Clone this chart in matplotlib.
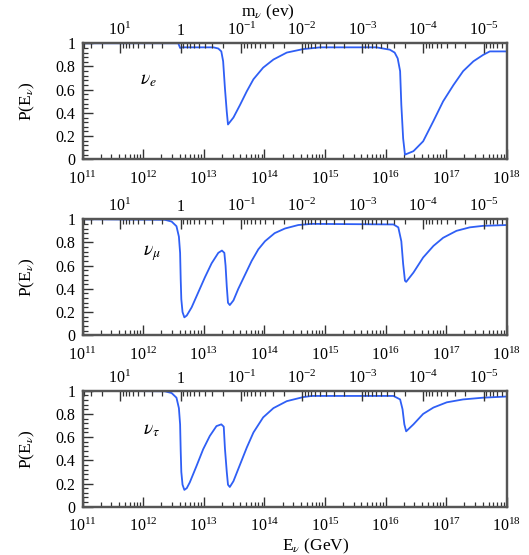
import numpy as np
import matplotlib
matplotlib.use("Agg")
import matplotlib.pyplot as plt
from matplotlib.ticker import LogLocator, FixedLocator, MultipleLocator, FuncFormatter, NullFormatter

plt.rcParams['font.family'] = ['Liberation Serif', 'DejaVu Serif']
plt.rcParams['mathtext.fontset'] = 'stix'

# values: log10(E/GeV) and P(E)
nue_logE = [11.0, 12.58, 12.61, 12.65, 13.16, 13.24, 13.29, 13.32, 13.35, 13.38,
            13.40, 13.49, 13.60, 13.71, 13.82, 13.98, 14.15, 14.37, 14.64, 14.92,
            15.85, 16.07, 16.15, 16.20, 16.24, 16.26, 16.29, 16.32,
            16.46, 16.62, 16.79, 16.95, 17.12, 17.28, 17.45, 17.61, 17.72, 18.0]
nue_P = [1.0, 1.0, 0.96, 0.965, 0.965, 0.955, 0.93, 0.845, 0.61, 0.41,
         0.30, 0.36, 0.47, 0.586, 0.69, 0.79, 0.86, 0.92, 0.95, 0.965,
         0.965, 0.945, 0.92, 0.87, 0.76, 0.47, 0.18, 0.04,
         0.07, 0.155, 0.33, 0.50, 0.64, 0.76, 0.845, 0.90, 0.93, 0.93]

numu_logE = [11.0, 12.36, 12.47, 12.55, 12.59, 12.61, 12.62, 12.63, 12.65, 12.68,
             12.72, 12.80, 12.91, 13.02, 13.13, 13.24, 13.30, 13.34, 13.36, 13.38,
             13.40, 13.43, 13.49, 13.57, 13.68, 13.79, 13.90, 14.01, 14.17, 14.34,
             14.56, 14.78, 16.13, 16.21, 16.26, 16.29, 16.32, 16.34,
             16.46, 16.62, 16.79, 16.95, 17.17, 17.39, 17.61, 18.0]
numu_P = [1.0, 0.995, 0.98, 0.94, 0.85, 0.71, 0.48, 0.31, 0.20, 0.154,
          0.17, 0.24, 0.37, 0.50, 0.62, 0.71, 0.73, 0.71, 0.60, 0.42,
          0.28, 0.26, 0.30, 0.40, 0.52, 0.64, 0.74, 0.81, 0.88, 0.92,
          0.95, 0.96, 0.955, 0.93, 0.81, 0.615, 0.47, 0.46,
          0.54, 0.67, 0.77, 0.84, 0.90, 0.93, 0.943, 0.95]

nutau_logE = [11.0, 12.36, 12.47, 12.55, 12.59, 12.61, 12.62, 12.63, 12.65, 12.68,
              12.72, 12.77, 12.88, 12.99, 13.10, 13.21, 13.29, 13.33, 13.35, 13.38,
              13.40, 13.43, 13.49, 13.60, 13.71, 13.82, 13.98, 14.15, 14.37, 14.64,
              14.78, 16.13, 16.24, 16.28, 16.31, 16.34,
              16.46, 16.62, 16.79, 17.01, 17.28, 17.61, 18.0]
nutau_P = [1.0, 0.995, 0.98, 0.94, 0.85, 0.71, 0.48, 0.30, 0.19, 0.145,
           0.16, 0.21, 0.35, 0.495, 0.61, 0.695, 0.71, 0.69, 0.50, 0.30,
           0.19, 0.17, 0.22, 0.365, 0.51, 0.64, 0.77, 0.85, 0.91, 0.945,
           0.955, 0.955, 0.925, 0.84, 0.71, 0.65,
           0.71, 0.80, 0.855, 0.90, 0.925, 0.94, 0.95]

flavours = [r'$\nu_e$', r'$\nu_\mu$', r'$\nu_\tau$']
label_pos = [(10**11.95, 0.68), (10**12.0, 0.71), (10**12.0, 0.66)]
mass_ticks = [1e1, 1e0, 1e-1, 1e-2, 1e-3, 1e-4, 1e-5]
E_res = 4.16e12  # M_Z^2 / 2, GeV*eV

curves = [(nue_logE, nue_P), (numu_logE, numu_P), (nutau_logE, nutau_P)]

fig = plt.figure(figsize=(5.29, 5.55), dpi=100)
bottoms = [0.713, 0.396, 0.087]
color = '#2f5ff5'
spine_col = '#555555'

def mass_fmt(m, pos):
    if abs(m - 1) < 1e-9:
        return '1'
    return r'$\mathdefault{10^{%d}}$' % int(round(np.log10(m)))

for i, (lx, p) in enumerate(curves):
    ax = fig.add_axes([0.156, bottoms[i], 0.802, 0.209])
    ax.plot(10**np.array(lx), p, color=color, lw=1.3)
    ax.set_xscale('log')
    ax.set_xlim(1e11, 1e18)
    ax.set_ylim(0, 1)
    ax.xaxis.set_major_locator(LogLocator(base=10, numticks=20))
    ax.xaxis.set_minor_locator(LogLocator(base=10, subs=np.arange(2, 10), numticks=20))
    ax.xaxis.set_minor_formatter(NullFormatter())
    ax.yaxis.set_major_locator(MultipleLocator(0.2))
    ax.yaxis.set_minor_locator(MultipleLocator(0.04))
    ax.yaxis.set_major_formatter(FuncFormatter(lambda v, pos: '%g' % round(v, 2)))
    ax.tick_params(which='major', direction='in', length=7, width=1.0, top=False, right=False,
                   labelsize=11.5, color='#333333')
    ax.tick_params(axis='x', which='major', pad=8)
    ax.tick_params(axis='y', which='major', pad=5)
    ax.tick_params(which='minor', direction='in', length=3.5, width=0.9, top=False, right=False,
                   color='#333333')
    for s in ax.spines.values():
        s.set_linewidth(1.6)
        s.set_color(spine_col)

    top = ax.twiny()
    top.set_xscale('log')
    top.set_xlim(E_res / 1e11, E_res / 1e18)
    top.xaxis.set_major_locator(FixedLocator(mass_ticks))
    top.xaxis.set_major_formatter(FuncFormatter(mass_fmt))
    top.xaxis.set_minor_locator(LogLocator(base=10, subs=np.arange(2, 10), numticks=20))
    top.xaxis.set_minor_formatter(NullFormatter())
    top.tick_params(which='major', direction='in', length=7, width=1.0, labelsize=11.5,
                    color='#333333', pad=3)
    top.tick_params(which='minor', direction='in', length=3.5, width=0.9, color='#333333')
    for s in top.spines.values():
        s.set_linewidth(1.6)
        s.set_color(spine_col)

    ax.text(label_pos[i][0], label_pos[i][1], flavours[i], fontsize=14, ha='left', va='center')
    fig.text(27 / 529, bottoms[i] + 0.1045, r'P(E$_\nu$)', rotation=90, fontsize=12.5,
             ha='center', va='center')

fig.text(268 / 529, 1 - 12 / 555, r'm$_\nu$ (ev)', fontsize=12.5, ha='center', va='center')
fig.text(316 / 529, 1 - 546 / 555, r'E$_\nu$ (GeV)', fontsize=12.5, ha='center', va='center')

fig.savefig('out.png', dpi=100)
